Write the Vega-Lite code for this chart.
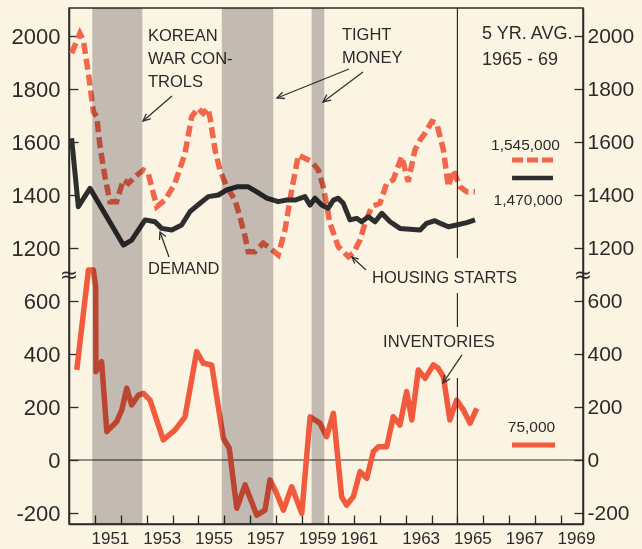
{
  "$schema": "https://vega.github.io/schema/vega-lite/v6.json",
  "width": 514,
  "height": 516,
  "autosize": "none",
  "padding": {"left": 69, "top": 8, "right": 59, "bottom": 25},
  "background": "#fbf4e3",
  "config": {
    "view": {"stroke": "#2b2b2b", "strokeWidth": 1.5},
    "axis": {"domainColor": "#2b2b2b", "domainWidth": 1.5, "tickColor": "#2b2b2b", "tickWidth": 1.3, "labelColor": "#2b2b2b", "labelFont": "Liberation Sans", "grid": false, "title": null},
    "text": {"font": "Liberation Sans", "color": "#2b2b2b"}
  },
  "datasets": {
    "housing": [
      {"year": 1950.10, "value": 1935}, {"year": 1950.42, "value": 2010}, {"year": 1950.55, "value": 1985},
      {"year": 1950.75, "value": 1859}, {"year": 1950.94, "value": 1714}, {"year": 1951.07, "value": 1696},
      {"year": 1951.20, "value": 1582}, {"year": 1951.39, "value": 1469}, {"year": 1951.58, "value": 1375},
      {"year": 1951.84, "value": 1375}, {"year": 1952.10, "value": 1457}, {"year": 1952.29, "value": 1444},
      {"year": 1952.55, "value": 1469}, {"year": 1952.87, "value": 1494}, {"year": 1953.06, "value": 1482},
      {"year": 1953.39, "value": 1356}, {"year": 1953.71, "value": 1381}, {"year": 1954.09, "value": 1444},
      {"year": 1954.48, "value": 1557}, {"year": 1954.74, "value": 1696}, {"year": 1954.98, "value": 1727},
      {"year": 1955.18, "value": 1708}, {"year": 1955.36, "value": 1727}, {"year": 1955.45, "value": 1690},
      {"year": 1955.64, "value": 1570}, {"year": 1955.83, "value": 1494}, {"year": 1956.09, "value": 1431},
      {"year": 1956.41, "value": 1381}, {"year": 1956.60, "value": 1318}, {"year": 1956.80, "value": 1243},
      {"year": 1956.92, "value": 1186}, {"year": 1957.18, "value": 1186}, {"year": 1957.50, "value": 1218},
      {"year": 1957.76, "value": 1199}, {"year": 1958.08, "value": 1174}, {"year": 1958.34, "value": 1268},
      {"year": 1958.60, "value": 1419}, {"year": 1958.86, "value": 1551}, {"year": 1959.11, "value": 1539},
      {"year": 1959.37, "value": 1526}, {"year": 1959.63, "value": 1494}, {"year": 1959.82, "value": 1431},
      {"year": 1960.08, "value": 1293}, {"year": 1960.40, "value": 1205}, {"year": 1960.79, "value": 1167},
      {"year": 1960.98, "value": 1180}, {"year": 1961.24, "value": 1230}, {"year": 1961.43, "value": 1293},
      {"year": 1961.69, "value": 1356}, {"year": 1962.01, "value": 1369}, {"year": 1962.27, "value": 1444},
      {"year": 1962.52, "value": 1457}, {"year": 1962.85, "value": 1545}, {"year": 1963.10, "value": 1450},
      {"year": 1963.36, "value": 1570}, {"year": 1963.56, "value": 1608}, {"year": 1963.75, "value": 1633},
      {"year": 1964.01, "value": 1677}, {"year": 1964.20, "value": 1671}, {"year": 1964.46, "value": 1570},
      {"year": 1964.65, "value": 1431}, {"year": 1964.84, "value": 1494}, {"year": 1965.10, "value": 1431},
      {"year": 1965.36, "value": 1412}, {"year": 1965.68, "value": 1412}
    ],
    "demand": [
      {"year": 1950.10, "value": 1614}, {"year": 1950.36, "value": 1356}, {"year": 1950.81, "value": 1425},
      {"year": 1952.10, "value": 1211}, {"year": 1952.42, "value": 1230}, {"year": 1952.94, "value": 1306},
      {"year": 1953.32, "value": 1299}, {"year": 1953.58, "value": 1274}, {"year": 1953.97, "value": 1268},
      {"year": 1954.35, "value": 1287}, {"year": 1954.67, "value": 1337}, {"year": 1955.06, "value": 1369},
      {"year": 1955.38, "value": 1394}, {"year": 1955.77, "value": 1400}, {"year": 1956.09, "value": 1419},
      {"year": 1956.48, "value": 1431}, {"year": 1956.92, "value": 1431}, {"year": 1957.25, "value": 1412},
      {"year": 1957.64, "value": 1388}, {"year": 1958.08, "value": 1375}, {"year": 1958.41, "value": 1381},
      {"year": 1958.73, "value": 1381}, {"year": 1959.11, "value": 1394}, {"year": 1959.31, "value": 1362},
      {"year": 1959.50, "value": 1388}, {"year": 1959.76, "value": 1362}, {"year": 1960.01, "value": 1350},
      {"year": 1960.21, "value": 1381}, {"year": 1960.40, "value": 1388}, {"year": 1960.59, "value": 1369},
      {"year": 1960.85, "value": 1306}, {"year": 1961.11, "value": 1312}, {"year": 1961.30, "value": 1299},
      {"year": 1961.56, "value": 1318}, {"year": 1961.82, "value": 1299}, {"year": 1962.08, "value": 1331},
      {"year": 1962.40, "value": 1299}, {"year": 1962.78, "value": 1274}, {"year": 1963.17, "value": 1271},
      {"year": 1963.56, "value": 1268}, {"year": 1963.81, "value": 1293}, {"year": 1964.13, "value": 1303},
      {"year": 1964.39, "value": 1291}, {"year": 1964.65, "value": 1280}, {"year": 1964.97, "value": 1287},
      {"year": 1965.36, "value": 1296}, {"year": 1965.68, "value": 1306}
    ],
    "inventories": [
      {"year": 1950.30, "value": 340}, {"year": 1950.75, "value": 717}, {"year": 1950.94, "value": 717},
      {"year": 1951.03, "value": 654}, {"year": 1951.04, "value": 333}, {"year": 1951.26, "value": 371},
      {"year": 1951.46, "value": 107}, {"year": 1951.84, "value": 145}, {"year": 1952.04, "value": 189},
      {"year": 1952.23, "value": 271}, {"year": 1952.42, "value": 208}, {"year": 1952.68, "value": 245},
      {"year": 1952.87, "value": 252}, {"year": 1953.13, "value": 226}, {"year": 1953.64, "value": 76},
      {"year": 1954.09, "value": 113}, {"year": 1954.48, "value": 163}, {"year": 1954.93, "value": 409},
      {"year": 1955.19, "value": 365}, {"year": 1955.51, "value": 359}, {"year": 1955.96, "value": 82},
      {"year": 1956.19, "value": 44}, {"year": 1956.48, "value": -182}, {"year": 1956.80, "value": -94},
      {"year": 1957.25, "value": -208}, {"year": 1957.57, "value": -189}, {"year": 1957.76, "value": -75},
      {"year": 1957.96, "value": -113}, {"year": 1958.28, "value": -189}, {"year": 1958.60, "value": -101},
      {"year": 1958.99, "value": -201}, {"year": 1959.31, "value": 163}, {"year": 1959.69, "value": 139},
      {"year": 1959.95, "value": 88}, {"year": 1960.21, "value": 176}, {"year": 1960.53, "value": -139},
      {"year": 1960.72, "value": -170}, {"year": 1960.98, "value": -139}, {"year": 1961.24, "value": -44},
      {"year": 1961.50, "value": -69}, {"year": 1961.75, "value": 31}, {"year": 1961.95, "value": 50},
      {"year": 1962.27, "value": 50}, {"year": 1962.52, "value": 163}, {"year": 1962.78, "value": 132},
      {"year": 1963.04, "value": 258}, {"year": 1963.24, "value": 151}, {"year": 1963.49, "value": 340},
      {"year": 1963.75, "value": 308}, {"year": 1964.07, "value": 359}, {"year": 1964.26, "value": 346},
      {"year": 1964.46, "value": 314}, {"year": 1964.71, "value": 151}, {"year": 1964.97, "value": 226},
      {"year": 1965.23, "value": 189}, {"year": 1965.49, "value": 139}, {"year": 1965.75, "value": 195}
    ],
    "bands": [
      {"year": 1950.90, "year2": 1952.83},
      {"year": 1955.90, "year2": 1957.89},
      {"year": 1959.37, "year2": 1959.86}
    ],
    "upperNotes": [
      {"year": 1953.05, "value": 2000, "label": "KOREAN"},
      {"year": 1953.05, "value": 1913, "label": "WAR CON-"},
      {"year": 1953.05, "value": 1827, "label": "TROLS"},
      {"year": 1960.54, "value": 2004, "label": "TIGHT"},
      {"year": 1960.54, "value": 1917, "label": "MONEY"},
      {"year": 1953.05, "value": 1119, "label": "DEMAND"},
      {"year": 1961.70, "value": 1087, "label": "HOUSING STARTS"}
    ],
    "avgNotes": [
      {"year": 1965.95, "value": 2006, "label": "5 YR. AVG."},
      {"year": 1965.95, "value": 1911, "label": "1965 - 69"}
    ],
    "upperLegendText": [
      {"year": 1967.63, "value": 1589, "label": "1,545,000"},
      {"year": 1967.73, "value": 1381, "label": "1,470,000"}
    ],
    "upperArrows": [
      {"id": "k", "o": 1, "year": 1953.978, "value": 1773.6}, {"id": "k", "o": 2, "year": 1952.858, "value": 1679.3},
      {"id": "kh", "o": 1, "year": 1953.155, "value": 1687.6}, {"id": "kh", "o": 2, "year": 1952.858, "value": 1679.3}, {"id": "kh", "o": 3, "year": 1952.985, "value": 1706.8},
      {"id": "t1", "o": 1, "year": 1960.813, "value": 1875.5}, {"id": "t1", "o": 2, "year": 1958.033, "value": 1766.1},
      {"id": "t1h", "o": 1, "year": 1958.342, "value": 1764.2}, {"id": "t1h", "o": 2, "year": 1958.033, "value": 1766.1}, {"id": "t1h", "o": 3, "year": 1958.245, "value": 1788.0},
      {"id": "t2", "o": 1, "year": 1961.354, "value": 1864.2}, {"id": "t2", "o": 2, "year": 1959.809, "value": 1751.0},
      {"id": "t2h", "o": 1, "year": 1960.122, "value": 1758.2}, {"id": "t2h", "o": 2, "year": 1959.809, "value": 1751.0}, {"id": "t2h", "o": 3, "year": 1959.956, "value": 1778.9},
      {"id": "d", "o": 1, "year": 1953.862, "value": 1166.1}, {"id": "d", "o": 2, "year": 1953.514, "value": 1260.4},
      {"id": "dh", "o": 1, "year": 1953.495, "value": 1230.2}, {"id": "dh", "o": 2, "year": 1953.514, "value": 1260.4}, {"id": "dh", "o": 3, "year": 1953.738, "value": 1243.5},
      {"id": "h", "o": 1, "year": 1961.470, "value": 1117.0}, {"id": "h", "o": 2, "year": 1960.929, "value": 1166.1},
      {"id": "hh", "o": 1, "year": 1961.033, "value": 1141.5}, {"id": "hh", "o": 2, "year": 1960.929, "value": 1166.1}, {"id": "hh", "o": 3, "year": 1961.188, "value": 1158.1}
    ],
    "lowerArrows": [
      {"id": "i", "o": 1, "year": 1965.177, "value": 396.3}, {"id": "i", "o": 2, "year": 1964.443, "value": 290.6},
      {"id": "ih", "o": 1, "year": 1964.710, "value": 306.1}, {"id": "ih", "o": 2, "year": 1964.443, "value": 290.6}, {"id": "ih", "o": 3, "year": 1964.494, "value": 320.4}
    ]
  },
  "encoding": {
    "x": {
      "field": "year",
      "type": "quantitative",
      "scale": {"domain": [1950, 1969.85], "nice": false, "zero": false},
      "axis": {
        "values": [1951, 1952, 1953, 1954, 1955, 1956, 1957, 1958, 1959, 1960, 1961, 1962, 1963, 1964, 1965, 1966, 1967, 1968, 1969],
        "tickSize": -9,
        "labelExpr": "datum.value % 2 == 1 ? datum.value : ''",
        "labelOffset": {"condition": {"test": "datum.value == 1961", "value": 5}, "value": 15},
        "labelPadding": 15,
        "labelFontSize": 17,
        "labelFlush": false,
        "labelOverlap": false
      }
    }
  },
  "layer": [
    {
      "encoding": {
        "y": {
          "field": "value",
          "type": "quantitative",
          "scale": {"domain": [158.5, 2105.7], "nice": false, "zero": false},
          "axis": {
            "orient": "left",
            "values": [200, 400, 600, 800, 1000, 1200, 1400, 1600, 1800, 2000],
            "labelExpr": "datum.value <= 1000 ? datum.value - 400 : datum.value",
            "tickSize": -9,
            "labelPadding": 18,
            "labelFontSize": 22
          }
        }
      },
      "layer": [
        {
          "data": {"name": "housing"},
          "mark": {"type": "line", "color": "#f2674b", "strokeWidth": 5.5, "strokeDash": [11, 5], "strokeCap": "butt"}
        },
        {
          "data": {"name": "demand"},
          "mark": {"type": "line", "color": "#2e2e2e", "strokeWidth": 5, "strokeJoin": "round"}
        },
        {
          "data": {"values": [{"year": 1965, "value": 2105.7, "value2": 1162}]},
          "mark": {"type": "rule", "color": "#2b2b2b", "strokeWidth": 1.2},
          "encoding": {"y2": {"field": "value2"}}
        },
        {
          "data": {"name": "upperArrows"},
          "mark": {"type": "line", "color": "#333333", "strokeWidth": 1.3},
          "encoding": {"detail": {"field": "id"}, "order": {"field": "o"}}
        },
        {
          "data": {"name": "upperNotes"},
          "mark": {"type": "text", "align": "left", "baseline": "middle", "fontSize": 16.5},
          "encoding": {"text": {"field": "label"}}
        },
        {
          "data": {"name": "avgNotes"},
          "mark": {"type": "text", "align": "left", "baseline": "middle", "fontSize": 18},
          "encoding": {"text": {"field": "label"}}
        },
        {
          "data": {"name": "upperLegendText"},
          "mark": {"type": "text", "align": "center", "baseline": "middle", "fontSize": 15.5},
          "encoding": {"text": {"field": "label"}}
        },
        {
          "data": {"values": [{"year": 1967.11, "value": 1532}, {"year": 1968.69, "value": 1532}]},
          "mark": {"type": "line", "color": "#f2674b", "strokeWidth": 5, "strokeDash": [11, 4], "strokeCap": "butt"}
        },
        {
          "data": {"values": [{"year": 1967.11, "value": 1464}, {"year": 1968.69, "value": 1464}]},
          "mark": {"type": "line", "color": "#2e2e2e", "strokeWidth": 4.5}
        },
        {
          "data": {"values": [{"year": 1950, "value": 1098, "label": "≈"}, {"year": 1969.85, "value": 1098, "label": "≈"}]},
          "mark": {"type": "text", "align": "center", "baseline": "middle", "fontSize": 22, "font": "DejaVu Sans"},
          "encoding": {"text": {"field": "label"}}
        }
      ]
    },
    {
      "encoding": {
        "y": {
          "field": "value",
          "type": "quantitative",
          "scale": {"domain": [-241.5, 1705.7], "nice": false, "zero": false},
          "axis": {
            "orient": "right",
            "values": [-200, 0, 200, 400, 600, 800, 1000, 1200, 1400, 1600],
            "labelExpr": "datum.value >= 800 ? datum.value + 400 : datum.value",
            "tickSize": -9,
            "labelPadding": 13,
            "labelFontSize": 21
          }
        }
      },
      "layer": [
        {
          "data": {"values": [{"year": 1950, "year2": 1969.85, "value": 0}]},
          "mark": {"type": "rule", "color": "#2b2b2b", "strokeWidth": 1.1},
          "encoding": {"x2": {"field": "year2"}}
        },
        {
          "data": {"name": "inventories"},
          "mark": {"type": "line", "color": "#f15a3d", "strokeWidth": 5.5, "strokeJoin": "round"}
        },
        {
          "data": {"values": [{"year": 1965, "value": 630, "value2": 502}, {"year": 1965, "value": 309.5, "value2": -241.5}]},
          "mark": {"type": "rule", "color": "#2b2b2b", "strokeWidth": 1.2},
          "encoding": {"y2": {"field": "value2"}}
        },
        {
          "data": {"name": "lowerArrows"},
          "mark": {"type": "line", "color": "#333333", "strokeWidth": 1.3},
          "encoding": {"detail": {"field": "id"}, "order": {"field": "o"}}
        },
        {
          "data": {"values": [{"year": 1962.13, "value": 445, "label": "INVENTORIES"}]},
          "mark": {"type": "text", "align": "left", "baseline": "middle", "fontSize": 16.5},
          "encoding": {"text": {"field": "label"}}
        },
        {
          "data": {"values": [{"year": 1967.86, "value": 126, "label": "75,000"}]},
          "mark": {"type": "text", "align": "center", "baseline": "middle", "fontSize": 15.5},
          "encoding": {"text": {"field": "label"}}
        },
        {
          "data": {"values": [{"year": 1967.11, "value": 56.6}, {"year": 1968.77, "value": 56.6}]},
          "mark": {"type": "line", "color": "#f15a3d", "strokeWidth": 5}
        }
      ]
    },
    {
      "data": {"name": "bands"},
      "mark": {"type": "rect", "color": "#c6c4c8", "opacity": 1, "blend": "multiply"},
      "encoding": {"x2": {"field": "year2"}}
    }
  ],
  "resolve": {"scale": {"y": "independent"}}
}
